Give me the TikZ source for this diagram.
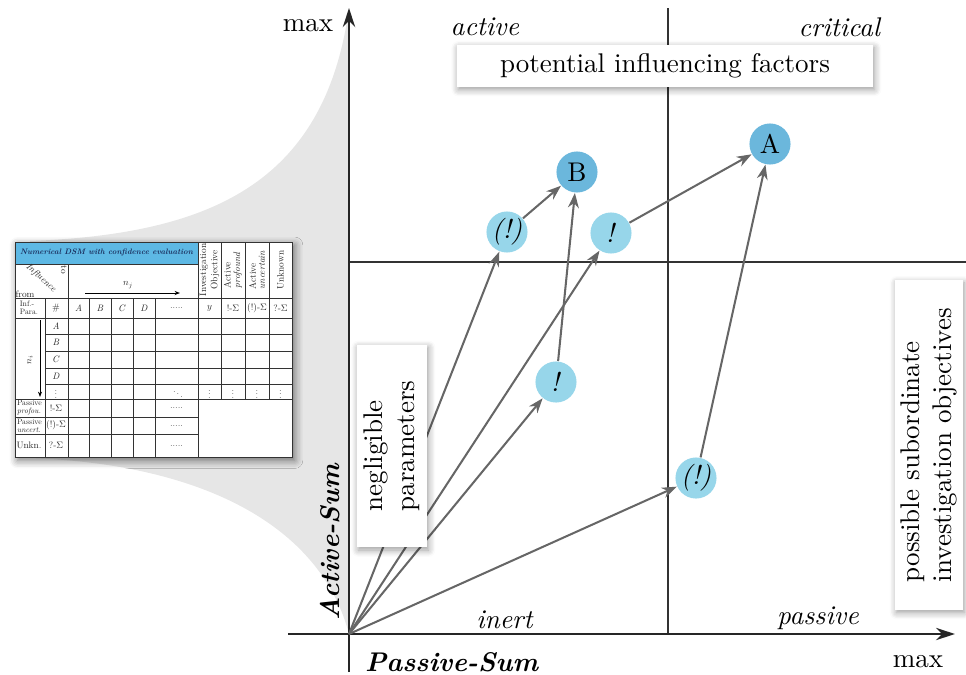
\RequirePackage{fix-cm}
\documentclass[tikz,border=0pt]{standalone}
\usepackage{amssymb,amsmath}
\usepackage{graphicx,xcolor}
\usetikzlibrary{arrows.meta,shadows.blur}

\definecolor{darkdot}{HTML}{6BB7DC}
\definecolor{lightdot}{HTML}{97D6EA}
\definecolor{funnelgray}{HTML}{E6E6E6}
\definecolor{dsmblue}{HTML}{5DB8E4}
\definecolor{dsmtext}{HTML}{1B2F5E}

% small text of the matrix, set at 10pt and shrunk
\newcommand{\cellt}[1]{\scalebox{0.345}{#1}}
\newcommand{\cellts}[1]{\scalebox{0.29}{#1}}

\begin{document}
\begin{tikzpicture}[x=0.37pt,y=0.37pt,
  dot/.style={circle, minimum size=15.2pt, inner sep=0pt},
  softshadow/.style={blur shadow={shadow xshift=0.5pt, shadow yshift=-1pt,
    shadow blur radius=2.5pt, shadow blur steps=6}},
  infobox/.style={fill=white, softshadow, inner sep=2pt},
  flow/.style={draw=black!60, line width=0.75pt, -{Stealth[length=5.5pt,width=4pt]}},
  axis/.style={line width=1.1pt, black!85, -{Stealth[length=7pt,width=4.5pt]}},
  grid/.style={line width=0.35pt, black!80},
  tbl/.style={inner sep=0pt, text=black!85},
]

\useasboundingbox (0,0) rectangle (966,674);

% grey funnel from the matrix to the axis
\fill[funnelgray] (30,433) .. controls (210,440) and (325,490) .. (349,666)
  -- (349,40) .. controls (320,150) and (200,210) .. (30,216) -- cycle;

% numerical DSM
\node[fill=white, blur shadow={shadow xshift=1pt, shadow yshift=-1.2pt,
    shadow blur radius=3pt, shadow blur steps=6, shadow opacity=55},
  minimum width=102.5pt, minimum height=79.6pt,
  inner sep=0pt] (dsm) at (153.5,324.5) {};
\fill[dsmblue] (15,410) rectangle (198,432);
\draw[grid] (15,217) rectangle (292,432);
\draw[grid] (15,410) -- (198,410);
\draw[grid] (15,376) -- (292,376);
\draw[grid] (15,356) -- (292,356);
\foreach \y in {340,323,306,290}
  \draw[grid] (45,\y) -- (292,\y);
\draw[grid] (15,275) -- (292,275);
\draw[grid] (15,257) -- (198,257);
\draw[grid] (15,240) -- (198,240);
\draw[grid] (198,217) -- (198,432);
\draw[grid] (68,217) -- (68,410);
\draw[grid] (45,217) -- (45,376);
\foreach \x in {89,111,133,155}
  \draw[grid] (\x,217) -- (\x,376);
\foreach \x in {221,245,269}
  \draw[grid] (\x,275) -- (\x,432);

\node[tbl, text=dsmtext] at (106.5,421)
  {\resizebox{64pt}{!}{\bfseries\itshape Numerical DSM with confidence evaluation}};
\node[tbl, rotate=90] at (209.5,404) {\cellt{\shortstack{Investigation\\Objective}}};
\node[tbl, rotate=90] at (233,404) {\cellt{\shortstack[l]{Active\\\textit{profound}}}};
\node[tbl, rotate=90] at (257,404) {\cellt{\shortstack[l]{Active\\\textit{uncertain}}}};
\node[tbl, rotate=90] at (280.5,404) {\cellt{Unknown}};

% corner cell
\node[tbl, rotate=-42] at (41,396) {\cellt{\textit{Influence}}};
\node[tbl, rotate=-90] at (64,404) {\cellt{to}};
\node[tbl] at (25,380) {\cellt{from}};
\draw[grid, line width=0.35pt, black, -{Stealth[length=2pt,width=1.5pt]}] (85,381) -- (180,381);
\node[tbl] at (128,389) {\cellt{$n_j$}};

% index row
\node[tbl] at (29,366) {\cellts{\shortstack[l]{Inf.-\\Para.}}};
\node[tbl] at (56,366) {\cellt{\#}};
\foreach \x/\lab in {78.5/A,100/B,122/C,144/D}
  \node[tbl] at (\x,366) {\cellt{\textit{\lab}}};
\node[tbl] at (176.5,366) {\cellt{.....}};
\node[tbl] at (209.5,366) {\cellt{$y$}};
\node[tbl] at (233,366) {\cellt{!-$\Sigma$}};
\node[tbl] at (257,366) {\cellt{(!)-$\Sigma$}};
\node[tbl] at (280.5,366) {\cellt{?-$\Sigma$}};

% parameter rows
\foreach \y/\lab in {348/A,331.5/B,314.5/C,298/D}
  \node[tbl] at (56,\y) {\cellt{\textit{\lab}}};
\node[tbl] at (56,282.5) {\cellt{$\vdots$}};
\node[tbl] at (178,282.5) {\cellt{$\ddots$}};
\foreach \x in {209.5,233,257,280.5}
  \node[tbl] at (\x,282.5) {\cellt{$\vdots$}};
\draw[grid, line width=0.35pt, black, -{Stealth[length=2pt,width=1.5pt]}] (40,354) -- (40,277);
\node[tbl, rotate=90] at (30,314) {\cellt{$n_i$}};

% passive sums
\node[tbl] at (29.5,266.5) {\cellts{\shortstack[l]{Passive\\\textit{profou.}}}};
\node[tbl] at (56,266) {\cellt{!-$\Sigma$}};
\node[tbl] at (29.5,248) {\cellts{\shortstack[l]{Passive\\\textit{uncert.}}}};
\node[tbl] at (56,248.5) {\cellt{(!)-$\Sigma$}};
\node[tbl] at (29,228.5) {\cellt{Unkn.}};
\node[tbl] at (56,228.5) {\cellt{?-$\Sigma$}};
\foreach \y in {266,248.5,228.5}
  \node[tbl] at (176.5,\y) {\cellt{.....}};

% quadrant lines
\draw[line width=0.6pt, black!80] (349,412) -- (966,412);
\draw[line width=0.6pt, black!80] (668,40) -- (668,666);

% axes
\coordinate (O) at (349,40);
\coordinate (ybot) at (349,2);
\coordinate (ytop) at (349,666);
\coordinate (xleft) at (288,40);
\coordinate (xright) at (955,40);
\draw[axis] (ybot) -- (ytop);
\draw[axis] (xleft) -- (xright);

\node (ymax) at (308,648) {max};
\node (xmax) at (918,12) {max};
\node (ylab) [rotate=90] at (330,132) {\textbf{\textit{Active-Sum}}};
\node (xlab) at (452,12) {\textbf{\textit{Passive-Sum}}};

% quadrant names
\node (qact) at (485,647) {\textit{active}};
\node (qcrit) at (840,647) {\textit{critical}};
\node (qinert) at (505,54) {\textit{inert}};
\node (qpass) at (818,56) {\textit{passive}};

% parameters
\node[dot, fill=darkdot] (A) at (770,530) {A};
\node[dot, fill=darkdot] (B) at (577,502) {B};
\node[dot, fill=lightdot] (u1) at (507,442) {\textit{(!)}};
\node[dot, fill=lightdot] (c1) at (611,441) {\textit{!}};
\node[dot, fill=lightdot] (c2) at (556,292) {\textit{!}};
\node[dot, fill=lightdot] (u2) at (696,196) {\textit{(!)}};

\draw[flow] (O) -- (u1);
\draw[flow] (O) -- (c1);
\draw[flow] (O) -- (c2);
\draw[flow] (O) -- (u2);
\draw[flow] (u1) -- (B);
\draw[flow] (c2) -- (B);
\draw[flow] (c1) -- (A);
\draw[flow] (u2) -- (A);

% region boxes
\node[infobox, minimum width=154pt, minimum height=15.5pt] (pif) at (665,608)
  {potential influencing factors};
\node[infobox, rotate=90, minimum width=75pt, minimum height=26pt,
  align=left] (negl) at (392,228) {negligible\\parameters};
\node[infobox, rotate=90, minimum width=122pt, minimum height=25pt,
  align=left] (psio) at (929,229) {possible subordinate\\investigation objectives};

\end{tikzpicture}
\end{document}
